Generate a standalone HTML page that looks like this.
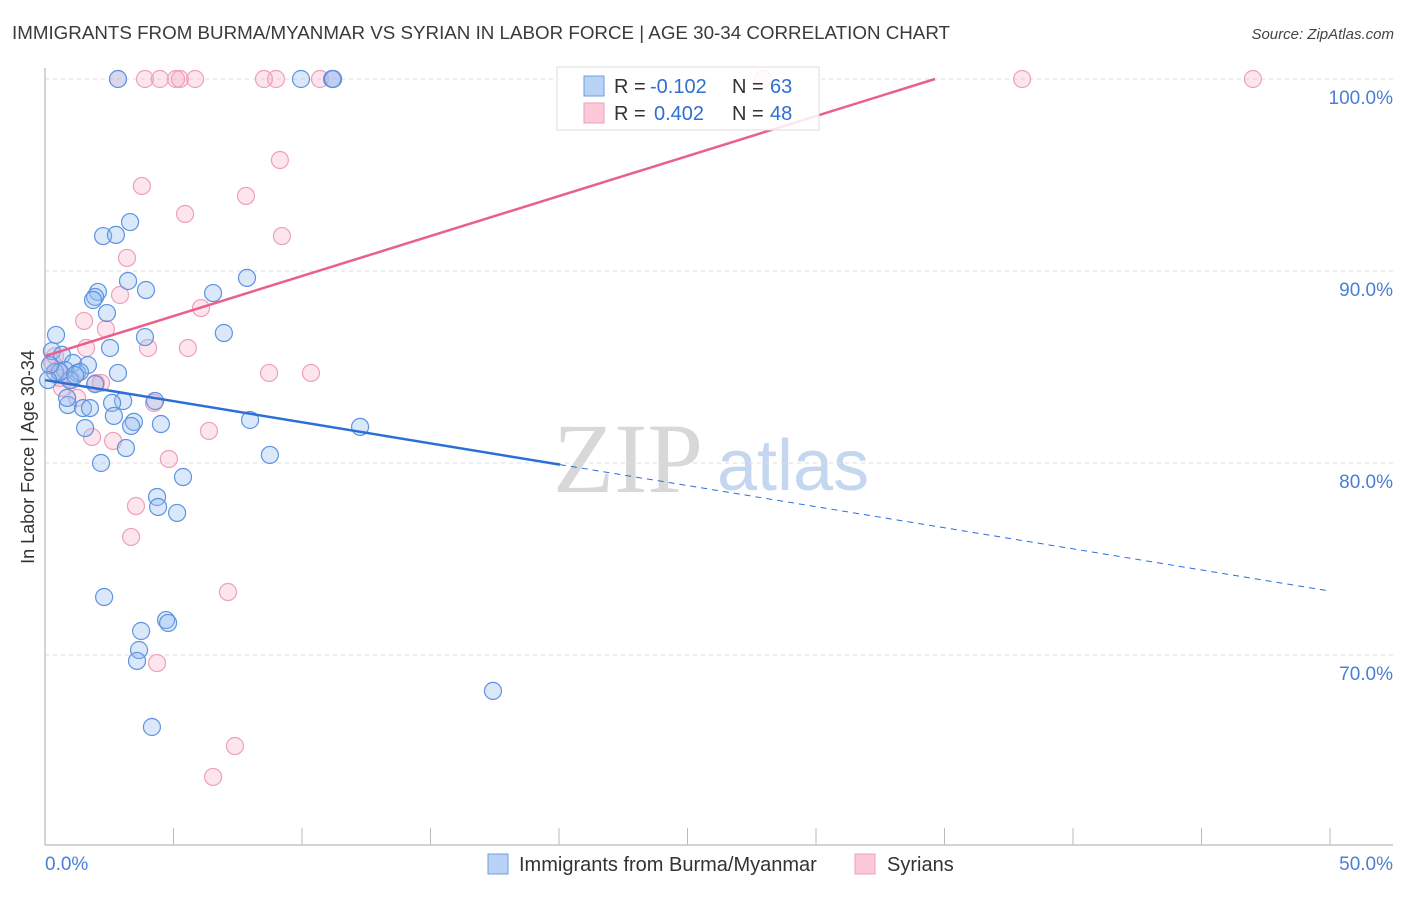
<!DOCTYPE html>
<html><head><meta charset="utf-8"><style>
body{margin:0;background:#fff;}
</style></head><body>
<svg id="chart" width="1406" height="892" xmlns="http://www.w3.org/2000/svg" font-family="Liberation Sans, sans-serif">
<text x="12" y="39" font-size="18" fill="#3a3a3a" textLength="938" lengthAdjust="spacingAndGlyphs">IMMIGRANTS FROM BURMA/MYANMAR VS SYRIAN IN LABOR FORCE | AGE 30-34 CORRELATION CHART</text>
<text x="1394" y="39" font-size="15" font-style="italic" fill="#444" text-anchor="end">Source: ZipAtlas.com</text>
<g>
<text x="553" y="492" font-size="100" style="font-family:'Liberation Serif',serif" fill="#d8d8d8">ZIP</text>
<text x="717" y="490" font-size="72" style="font-family:'Liberation Sans',sans-serif" fill="#c5d7f0">atlas</text>
</g>
<g id="grid"></g>
<g id="axes"></g>
<g id="marks"></g>
<text transform="translate(34,457) rotate(-90)" font-size="18" fill="#333" text-anchor="middle">In Labor Force | Age 30-34</text>
<g>
<rect x="557" y="67" width="262" height="63" fill="rgba(255,255,255,0.85)" stroke="#ddd"/>
<rect x="584" y="76" width="20" height="20" fill="#b8d3f5" stroke="#6e9fe0"/>
<rect x="584" y="103" width="20" height="20" fill="#fcc9d8" stroke="#eea0b8"/>
<text x="614" y="93" font-size="20" fill="#333">R =</text>
<text x="650" y="93" font-size="20" fill="#2f6fd1">-0.102</text>
<text x="732" y="93" font-size="20" fill="#333">N =</text>
<text x="770" y="93" font-size="20" fill="#2f6fd1">63</text>
<text x="614" y="120" font-size="20" fill="#333">R =</text>
<text x="654" y="120" font-size="20" fill="#2f6fd1">0.402</text>
<text x="732" y="120" font-size="20" fill="#333">N =</text>
<text x="770" y="120" font-size="20" fill="#2f6fd1">48</text>
</g>
<g>
<rect x="488" y="854" width="20" height="20" fill="#b8d3f5" stroke="#6e9fe0"/>
<text x="519" y="871" font-size="20" fill="#333">Immigrants from Burma/Myanmar</text>
<rect x="855" y="854" width="20" height="20" fill="#fcc9d8" stroke="#eea0b8"/>
<text x="887" y="871" font-size="20" fill="#333">Syrians</text>
</g>
</svg>
<script>
const blueX=[2.84,9.96,11.17,11.21,3.31,2.26,2.76,3.23,3.93,2.06,1.95,1.87,6.54,7.86,2.41,6.96,0.43,3.89,2.53,0.27,0.66,1.09,1.67,2.84,1.25,0.78,1.36,0.97,0.39,0.58,3.04,4.28,2.61,0.89,1.48,1.75,0.86,2.68,3.46,3.35,4.51,7.98,12.26,1.56,3.15,2.18,8.75,5.37,4.36,4.40,5.14,2.30,4.71,4.79,3.74,3.66,3.58,17.43,4.16,1.95,1.17,0.19,0.12];
const blueY=[100,100,100,100,92.55,91.82,91.88,89.48,89.01,88.91,88.65,88.49,88.85,89.64,87.81,86.77,86.67,86.56,85.99,85.83,85.63,85.21,85.10,84.69,84.69,84.84,84.74,84.32,84.74,84.74,83.23,83.23,83.13,83.02,82.86,82.86,83.39,82.45,82.14,81.93,82.03,82.24,81.88,81.82,80.78,80.0,80.42,79.27,78.23,77.71,77.40,73.02,71.82,71.67,71.25,70.26,69.69,68.13,66.25,84.11,84.58,85.10,84.32];
const pinkX=[2.84,3.89,4.47,5.10,5.25,5.84,8.52,8.99,10.70,11.21,27.94,38.02,47.0,9.14,3.77,5.45,7.82,9.22,3.19,2.92,6.07,1.52,2.37,4.01,5.56,1.60,4.24,8.72,10.35,1.98,2.18,0.66,1.25,1.83,2.65,6.38,4.82,3.54,3.35,7.12,4.36,7.39,6.54,0.27,0.51,1.05,0.58,0.39];
const pinkY=[100,100,100,100,100,100,100,100,100,100,100,100,100,95.78,94.43,92.97,93.91,91.82,90.68,88.75,88.07,87.40,86.98,85.99,85.99,85.99,83.13,84.69,84.69,84.17,84.17,83.91,83.39,81.35,81.15,81.67,80.21,77.76,76.15,73.28,69.58,65.26,63.65,85.26,84.84,84.32,84.43,85.57];
const yTicks=[100,90,80,70];
const yTickLabels=["100.0%","90.0%","80.0%","70.0%"];
const xEndLabels=["0.0%","50.0%"];
const blueTrend=[84.32,73.33];
const blueSolidEnd=20.04;
const pinkTrend=[85.57,0.4167];

const NS="http://www.w3.org/2000/svg";
const X=v=>45+v*25.7;
const Y=v=>79+(100-v)*19.2;
function mk(tag,attrs,parent){const e=document.createElementNS(NS,tag);for(const k in attrs)e.setAttribute(k,attrs[k]);document.getElementById(parent).appendChild(e);return e;}

yTicks.forEach((t,i)=>{
  const g=mk('line',{x1:45,x2:1393,y1:Y(t),y2:Y(t),stroke:'#ddd','stroke-dasharray':'4,4'},'grid');
  
  
  const l=mk('text',{x:1393,y:Y(t)+25,'font-size':19,fill:'#4a7fd4','text-anchor':'end'},'axes');
  l.textContent=yTickLabels[i];
  
  
});
const ax=mk('line',{x1:45,x2:45,y1:68,y2:845,stroke:'#aaa'},'axes');


const bx=mk('line',{x1:45,x2:1393,y1:845,y2:845,stroke:'#aaa'},'axes');


for(let k=1;k<=10;k++){
  const t=mk('line',{x1:X(k*5),x2:X(k*5),y1:828,y2:845,stroke:'#bbb'},'axes');
  
  
}
const xl0=mk('text',{x:45,y:870,'font-size':19,fill:'#4a7fd4'},'axes');xl0.textContent=xEndLabels[0];


const xl1=mk('text',{x:1393,y:870,'font-size':19,fill:'#4a7fd4','text-anchor':'end'},'axes');xl1.textContent=xEndLabels[1];



pinkX.forEach((x,i)=>{
  const c=mk('circle',{cx:X(x),cy:Y(pinkY[i]),r:8.5,fill:'rgba(248,170,195,0.3)',stroke:'#eea0b8','stroke-width':1.2},'marks');
  
  
});
blueX.forEach((x,i)=>{
  const c=mk('circle',{cx:X(x),cy:Y(blueY[i]),r:8.5,fill:'rgba(150,190,240,0.35)',stroke:'#5d93e0','stroke-width':1.2},'marks');
  
  
});
const bAt=x=>blueTrend[0]+(blueTrend[1]-blueTrend[0])*x/50;
const b1=mk('line',{x1:X(0),y1:Y(bAt(0)),x2:X(blueSolidEnd),y2:Y(bAt(blueSolidEnd)),stroke:'#2a6fd6','stroke-width':2.5},'marks');


const b2=mk('line',{x1:X(blueSolidEnd),y1:Y(bAt(blueSolidEnd)),x2:X(50),y2:Y(bAt(50)),stroke:'#2a6fd6','stroke-width':1,'stroke-dasharray':'6,5'},'marks');


const pEnd=(100-pinkTrend[0])/pinkTrend[1];
const p1=mk('line',{x1:X(0),y1:Y(pinkTrend[0]),x2:X(pEnd),y2:Y(100),stroke:'#e8608c','stroke-width':2.5},'marks');


</script>
</body></html>
